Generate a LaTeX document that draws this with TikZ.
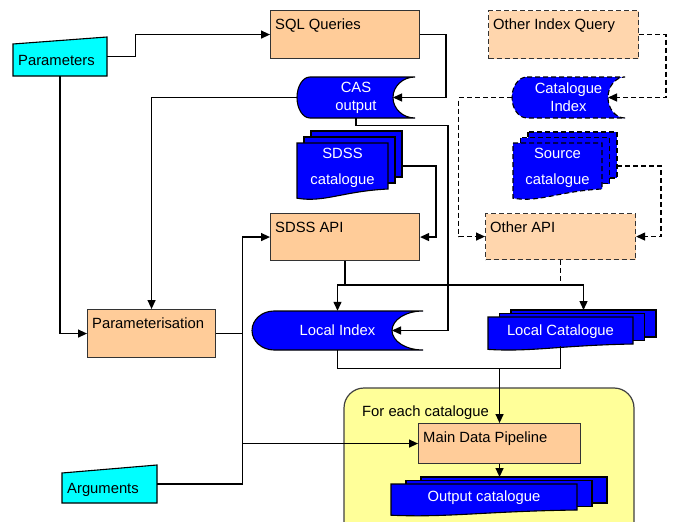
\documentclass[tikz,border=0pt]{standalone}
\usepackage{fontspec}
\setmainfont{Liberation Sans}
\usepackage{xcolor}
\usepackage{tikz}
\usetikzlibrary{arrows.meta}

\definecolor{peach}{HTML}{FFCC99}
\definecolor{loopyellow}{HTML}{FFFF99}
\definecolor{dataBlue}{HTML}{0000FF}
\definecolor{inputCyan}{HTML}{00FFFF}

\tikzset{
	every node/.style={font=\fontsize{14.8}{18}\selectfont},
	proc/.style={draw=black!80, line width=1.1pt, fill=peach, anchor=north west, inner sep=0pt},
	proctext/.style={anchor=base west, inner sep=0pt, xshift=5pt, yshift=-19pt},
	store/.style={draw=black, line width=1.1pt, fill=dataBlue},
	shapebox/.style={inner sep=0pt, text=white, align=center},
	flow/.style={line width=1.3pt, -{Triangle[length=9pt,width=8pt]}},
	link/.style={line width=1.3pt},
	otherdash/.style={dash pattern=on 5pt off 3pt},
}

\newcommand{\procbox}[7][] % [style]{name}{x1}{y1}{x2}{y2}{text}
{
	\node[proc, #1, minimum width=#5-#3, minimum height=#6-#4, label={[proctext]north west:#7}] (#2) at (#3,#4) {};
}
\newcommand{\storeddata}[9][] % [style]{name}{x1}{y1}{x2}{y2}{left rx}{right rx}{text}
{
	\draw[store, #1] (#3+#7,#4) -- (#5,#4) arc[start angle=270, end angle=90, x radius=#8, y radius={(#6-#4)/2}]
		-- (#3+#7,#6) arc[start angle=90, end angle=270, x radius=#7, y radius={(#6-#4)/2}] -- cycle;
	\node[shapebox, minimum width=#5-#3, minimum height=#6-#4] (#2) at ({(#3+#5)/2},{(#4+#6)/2}) {#9};
	\coordinate (#2 in) at (#5-#8,{(#4+#6)/2});
}
\newcommand{\multidoc}[9][] % [style]{name}{x1}{y1}{x2}{y2}{dx}{dy}{text}
{
	\foreach \pg in {2,1}
		\draw[store, #1] (#3+\pg*#7,#4-\pg*#8) rectangle (#5+\pg*#7,#6-\pg*#8);
	\draw[store, #1] (#3,#4) -- (#5,#4) -- (#5,#6) .. controls ({#3+0.5*(#5-#3)},{#6+0.05*(#6-#4)}) and ({#3+0.3*(#5-#3)},{#6+0.3*(#6-#4)}) .. (#3,{#6+0.2*(#6-#4)}) -- cycle;
	\node[shapebox, minimum width=#5-#3, minimum height={1.08*(#6-#4)}] (#2) at ({(#3+#5)/2},{#4+0.54*(#6-#4)}) {#9};
	\coordinate (#2 e) at (#5+2*#7,{(#4+#6)/2});
	\coordinate (#2 n) at ({(#3+#5)/2+2*#7},#4-2*#8);
}
\newcommand{\manualin}[7] % {name}{x1}{y1}{x2}{y2}{slant}{text}
{
	\draw[line width=1.1pt, fill=inputCyan] (#2,#3+#6) -- (#4,#3) -- (#4,#5) -- (#2,#5) -- cycle;
	\node[inner sep=0pt, minimum width=#4-#2, minimum height=#5-#3] (#1) at ({(#2+#4)/2},{(#3+#5)/2}) {};
	\node[anchor=base west, inner sep=0pt] (#1 txt) at (#2+5,{(#3+#5)/2+9}) {#7};
}

\begin{document}
\begin{tikzpicture}[x=1pt,y=-1pt]

	\clip (0,0) rectangle (673,522);

	\manualin{params}{13}{37}{107}{76}{7}{Parameters}
	\manualin{args}{62}{465}{157}{503}{8}{Arguments}

	\procbox{sql}{270}{10}{419}{58}{SQL Queries}
	\procbox{api}{270}{213}{419}{260}{SDSS API}
	\procbox{ptn}{87}{309}{215}{357}{Parameterisation}
	\procbox[otherdash, fill=peach!80]{oiq}{488}{10}{638}{58}{Other Index Query}
	\procbox[otherdash, fill=peach!80]{oapi}{485}{213}{635}{259}{Other API}

	\storeddata{cas}{297}{77}{415}{118}{13}{22}{CAS\\output}
	\storeddata[otherdash]{cidx}{512}{77}{625}{118}{15}{17}{Catalogue\\Index}
	\storeddata{lidx}{252}{311}{423}{350}{22}{31}{Local Index}

	\multidoc{sdss}{297}{143}{388}{189}{7}{6}{SDSS\\[8pt]catalogue}
	\multidoc[otherdash]{src}{513}{143}{602}{189}{7.5}{5.5}{Source\\[8pt]catalogue}
	\multidoc{lcat}{488}{317}{633}{344}{11.5}{3.5}{Local Catalogue}

	% loop over the catalogues
	\draw[draw=black!75, line width=1.2pt, fill=loopyellow, rounded corners=20pt] (344,388) rectangle (634,545);
	\node[anchor=base west, inner sep=0pt] (loop) at (362,416) {For each catalogue};
	\procbox{mdp}{418}{423}{580}{463}{Main Data Pipeline}
	\multidoc{outcat}{391}{484}{577}{510}{15}{3.5}{Output catalogue}

	\draw[flow] (params.east) -- ++(28,0) |- (sql.west);
	\draw[flow] (params.south) |- (ptn.west);
	\draw[flow] (sql.east) -- ++(26,0) |- (cas in);
	\draw[flow] (cas.west) -| (ptn.north);
	\draw[flow] (cas.south) -- ++(0,7) -- ++(92,0) |- (lidx in);
	\draw[flow] (sdss e) -- ++(34,0) |- (api.east);

	\draw[link] (api.south) -- ++(0,24) coordinate (split);
	\draw[flow] (split) -| (lidx.north);
	\draw[flow] (split) -| (lcat n);
	\draw[link, otherdash] (oapi.south) -- (oapi.south |- split);

	\draw[link] (lidx.south) -- ++(0,18) coordinate (join) -| (lcat.south);
	\draw[flow] (join -| mdp.north) -- (mdp.north);

	\draw[flow] (args.east) -- ++(85,0) coordinate (bus) |- (api.west);
	\draw[flow] (bus) |- (mdp.west);
	\draw[link] (ptn.east) -- (ptn.east -| bus);
	\draw[flow] (mdp.south) -- (mdp.south |- outcat n);

	\draw[flow, otherdash] (oiq.east) -- ++(27,0) |- (cidx in);
	\draw[flow, otherdash] (cidx.west) -- ++(-53,0) |- (oapi.west);
	\draw[flow, otherdash] (src e) -- ++(44,0) |- (oapi.east);

\end{tikzpicture}
\end{document}
